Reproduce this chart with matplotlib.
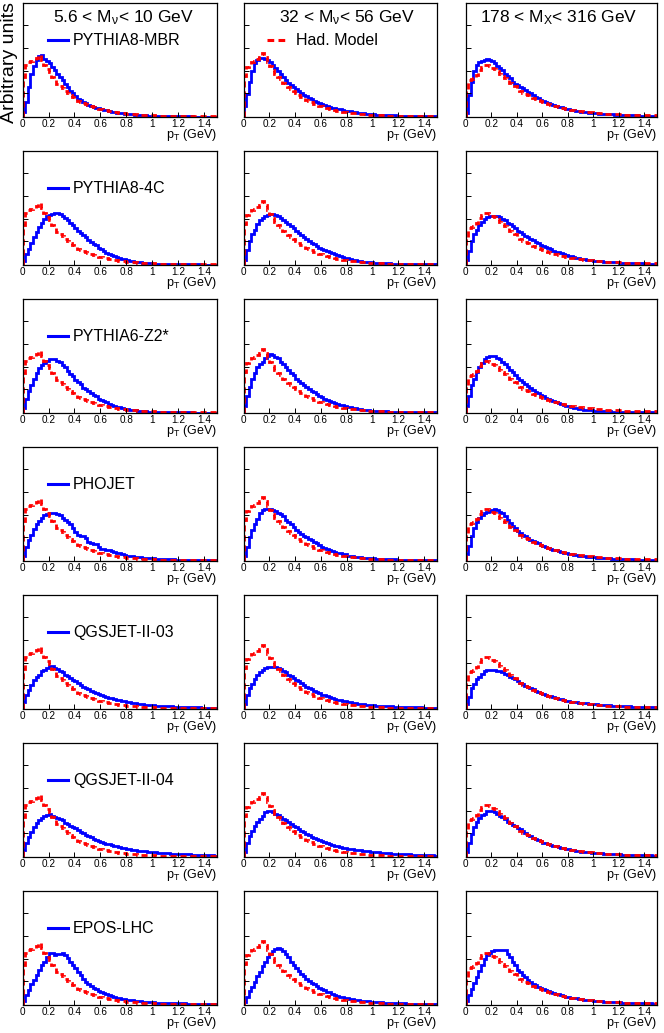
#!/usr/bin/env python3
"""
pT spectra of Had. Model vs generators in three diffractive mass bins.
Writes out.png.
"""

import numpy as np
import matplotlib
matplotlib.use("Agg")
import matplotlib.pyplot as plt
from matplotlib.lines import Line2D

plt.rcParams["font.family"] = ["Liberation Sans", "DejaVu Sans"]
plt.rcParams["mathtext.fontset"] = "custom"
plt.rcParams["mathtext.rm"] = "Liberation Sans"
plt.rcParams["mathtext.it"] = "Liberation Sans:italic"

# ---- data: bin contents in % of panel height, bins of 0.02 GeV from 0 to 1.5 ----
PT_MIN, PT_MAX, N_BINS = 0.0, 1.5, 75

mass_titles = ["5.6 < M$_{\\mathrm{ν}}$< 10 GeV",
               "32 < M$_{\\mathrm{ν}}$< 56 GeV",
               "178 < M$_{\\mathrm{X}}$< 316 GeV"]
models = ["PYTHIA8-MBR", "PYTHIA8-4C", "PYTHIA6-Z2*", "PHOJET",
          "QGSJET-II-03", "QGSJET-II-04", "EPOS-LHC"]
xtick_vals = [0, 0.2, 0.4, 0.6, 0.8, 1.0, 1.2, 1.4]
xtick_labels = ["0", "0.2", "0.4", "0.6", "0.8", "1", "1.2", "1.4"]

# Had. Model (same in every row of a column)
had_lo = [35, 46, 48, 49, 50, 52, 54, 50, 46, 42,
          39, 35, 32, 29, 27, 25, 23, 21, 19, 17,
          15.5, 14.2, 13.0, 12.0, 11.0, 10.0, 9.2, 8.5, 7.8, 7.2,
          6.6, 6.1, 5.6, 5.1, 4.7, 4.3, 3.9, 3.6, 3.3, 3.0,
          2.8, 2.5, 2.3, 2.1, 1.9, 1.7, 1.6, 1.4, 1.3, 1.2,
          1.1, 1.0, 0.9, 0.85, 0.8, 0.7, 0.65, 0.6, 0.55, 0.5,
          0.45, 0.42, 0.4, 0.37, 0.35, 0.32, 0.3, 0.28, 0.26, 0.24,
          0.22, 0.21, 0.2, 0.19, 0.18]
had_mid = [36, 44, 46, 48, 49, 51, 53, 56, 53, 48,
           45, 41, 38, 35, 33, 30, 28, 26, 24, 22.5,
           20.5, 19.0, 17.6, 16.3, 15.0, 13.8, 12.6, 11.6, 10.7, 9.8,
           9.0, 8.3, 7.6, 7.0, 6.4, 5.8, 5.4, 4.9, 4.5, 4.1,
           3.7, 3.4, 3.1, 2.9, 2.6, 2.4, 2.2, 2.0, 1.8, 1.65,
           1.5, 1.4, 1.3, 1.2, 1.1, 1.0, 0.95, 0.9, 0.85, 0.8,
           0.7, 0.65, 0.6, 0.55, 0.5, 0.48, 0.45, 0.42, 0.4, 0.38,
           0.35, 0.33, 0.31, 0.3, 0.28]
had_hi = [24, 32, 33, 34, 37, 41, 44, 46, 46, 45,
          43, 42, 40, 38, 36, 34, 32, 30, 28.5, 27,
          24, 22.5, 21.2, 20.0, 18.8, 17.6, 16.5, 15.5, 14.5, 13.6,
          12.8, 12.0, 11.2, 10.5, 9.8, 9.2, 8.6, 8.0, 7.5, 7.0,
          6.6, 6.2, 5.8, 5.4, 5.1, 4.8, 4.5, 4.2, 4.0, 3.8,
          3.6, 3.4, 3.2, 3.0, 2.8, 2.7, 2.5, 2.4, 2.3, 2.2,
          2.1, 2.0, 1.9, 1.8, 1.7, 1.6, 1.55, 1.5, 1.4, 1.35,
          1.3, 1.25, 1.2, 1.15, 1.1]

mbr_lo = [4, 13, 26, 38, 45, 50, 53.5, 54, 51, 49,
          47, 44, 41, 38, 35, 32, 29, 26, 23, 20.5,
          18, 16, 14.5, 13, 11.7, 10.5, 9.6, 8.8, 8.1, 7.3,
          6.5, 6.0, 5.5, 5.0, 4.5, 4.0, 3.7, 3.4, 3.1, 2.8,
          2.5, 2.3, 2.0, 1.8, 1.6, 1.4, 1.2, 1.1, 1.0, 0.9,
          0.7, 0.65, 0.6, 0.55, 0.5, 0.45, 0.4, 0.37, 0.34, 0.3,
          0.28, 0.26, 0.24, 0.22, 0.2, 0.18, 0.17, 0.16, 0.15, 0.14,
          0.13, 0.12, 0.11, 0.1, 0.1]
mbr_mid = [9, 20, 31, 40, 47, 50, 52, 52, 51, 50,
           48, 46, 43, 40, 38, 35, 32, 30, 28, 26,
           24, 22.5, 21, 19.5, 18, 16.5, 15.3, 14.1, 13, 12,
           11, 10.2, 9.5, 8.8, 8.1, 7.5, 6.9, 6.4, 5.9, 5.4,
           5.0, 4.6, 4.3, 3.9, 3.6, 3.3, 3.0, 2.8, 2.6, 2.4,
           2.0, 1.9, 1.7, 1.6, 1.5, 1.4, 1.3, 1.2, 1.1, 1.05,
           1.0, 0.95, 0.9, 0.85, 0.8, 0.75, 0.7, 0.65, 0.6, 0.55,
           0.5, 0.48, 0.45, 0.42, 0.4]
mbr_hi = [3, 19, 31, 40, 46, 48, 49, 50, 51, 50,
          49, 47, 45, 43, 41, 38, 36, 34, 31, 29,
          28, 26.5, 25, 23.5, 22, 20.5, 19, 17.8, 16.5, 15,
          13.5, 12.7, 11.9, 11.1, 10.3, 9.5, 8.9, 8.3, 7.7, 7.1,
          6.5, 6.1, 5.7, 5.3, 4.9, 4.5, 4.2, 3.9, 3.6, 3.4,
          3.2, 3.0, 2.8, 2.6, 2.4, 2.2, 2.1, 2.0, 1.9, 1.8,
          1.7, 1.6, 1.5, 1.4, 1.3, 1.2, 1.15, 1.1, 1.0, 0.95,
          0.9, 0.85, 0.8, 0.75, 0.7]

p8_4c_lo = [3, 9, 14, 19, 24, 29, 33, 37, 40, 43,
            44, 45, 46, 46, 45, 43, 41, 39, 37, 35,
            32, 30, 28, 26, 24, 22, 20, 18.5, 17, 15,
            13.5, 12, 10.5, 9.5, 8.5, 7.5, 6.7, 6.0, 5.4, 4.8,
            4.0, 3.6, 3.2, 2.8, 2.4, 2.0, 1.8, 1.6, 1.4, 1.2,
            1.0, 0.9, 0.8, 0.7, 0.65, 0.6, 0.55, 0.5, 0.45, 0.4,
            0.37, 0.34, 0.31, 0.28, 0.26, 0.24, 0.22, 0.2, 0.18, 0.17,
            0.16, 0.15, 0.14, 0.13, 0.12]
p8_4c_mid = [4.5, 13, 21, 27, 31, 36, 39, 41, 43, 44,
             45, 45, 44, 43, 41, 39, 38, 36, 34, 32,
             30, 28, 26, 24, 22.5, 21, 19.5, 18, 16.5, 15,
             14, 13, 12, 11, 10, 9, 8.2, 7.4, 6.7, 6.1,
             5.5, 5, 4.4, 3.9, 3.4, 3, 2.7, 2.4, 2.2, 2.0,
             1.8, 1.6, 1.5, 1.4, 1.3, 1.2, 1.1, 1.0, 0.95, 0.9,
             0.8, 0.75, 0.7, 0.65, 0.6, 0.55, 0.5, 0.47, 0.44, 0.41,
             0.38, 0.35, 0.33, 0.31, 0.3]
p8_4c_hi = [4.5, 12, 21, 27, 31, 35, 38, 40, 42, 43,
            43, 43, 43, 42, 40, 39, 37, 35.5, 34, 32,
            30, 28.5, 27, 25.5, 24.2, 23, 21.7, 20.4, 19, 17.7,
            16.5, 15.5, 14.5, 13.5, 12.5, 11.5, 10.8, 10.1, 9.4, 8.7,
            8, 7.4, 6.8, 6.2, 5.7, 5.2, 4.8, 4.4, 4.1, 3.8,
            3.5, 3.3, 3.1, 2.9, 2.7, 2.5, 2.3, 2.2, 2.1, 2.0,
            1.9, 1.8, 1.7, 1.6, 1.5, 1.4, 1.3, 1.2, 1.15, 1.1,
            1.0, 0.95, 0.9, 0.85, 0.8]

z2_lo = [4.5, 12, 19, 24.5, 30, 35, 39, 42, 44, 46,
         47, 47, 47, 46, 45, 42, 40, 37, 34, 32,
         29, 27, 25, 22, 20.5, 19, 17, 15.5, 14.5, 12.5,
         11, 10, 9, 8, 7, 6, 5.4, 4.8, 4.2, 3.6,
         3, 2.7, 2.4, 2.1, 1.8, 1.5, 1.35, 1.2, 1.05, 0.9,
         0.8, 0.72, 0.65, 0.58, 0.52, 0.46, 0.42, 0.38, 0.34, 0.3,
         0.28, 0.26, 0.24, 0.22, 0.2, 0.18, 0.17, 0.16, 0.15, 0.14,
         0.13, 0.12, 0.11, 0.1, 0.1]
z2_mid = [6, 15, 23, 30, 35, 40, 43, 45, 48, 50,
          51.5, 51, 49, 48, 45, 43, 40, 38, 35, 33,
          30, 28, 26, 24, 22.5, 21, 19.5, 18, 16.5, 15,
          13.5, 12.5, 11.5, 10.5, 9.5, 8.5, 7.8, 7.1, 6.4, 5.7,
          5, 4.6, 4.2, 3.8, 3.4, 3, 2.7, 2.4, 2.1, 1.9,
          1.7, 1.6, 1.45, 1.3, 1.2, 1.1, 1.0, 0.95, 0.9, 0.85,
          0.8, 0.75, 0.7, 0.65, 0.6, 0.55, 0.5, 0.47, 0.44, 0.41,
          0.38, 0.35, 0.33, 0.31, 0.3]
z2_hi = [6, 15, 24, 30, 36, 40, 44, 47, 49, 50,
         50, 50, 48, 47, 45, 43, 40, 38, 36, 33,
         31, 29, 27, 25, 23.2, 21.5, 20, 18.5, 17, 15.7,
         14.5, 13.4, 12.3, 11.2, 10.1, 9, 8.2, 7.4, 6.7, 6.1,
         5.5, 5, 4.4, 3.9, 3.4, 3, 2.7, 2.4, 2.2, 2.0,
         1.8, 1.65, 1.5, 1.4, 1.3, 1.2, 1.1, 1.0, 0.9, 0.85,
         0.8, 0.75, 0.7, 0.65, 0.6, 0.55, 0.5, 0.47, 0.44, 0.41,
         0.38, 0.35, 0.33, 0.31, 0.3]

phojet_lo = [4.5, 12, 18, 23, 28, 32, 35, 38, 40, 41,
             42, 42, 42, 41, 40, 38, 36, 34, 32, 29,
             25, 23, 22, 21.5, 20, 16.5, 15.5, 15, 14.5, 12.5,
             10.5, 10, 9.5, 9, 8.5, 7.5, 7, 6.5, 6, 5,
             4.5, 4.2, 3.9, 3.6, 3.3, 3, 2.8, 2.6, 2.4, 2.2,
             2, 1.9, 1.7, 1.6, 1.5, 1.4, 1.3, 1.2, 1.1, 1.05,
             1, 0.95, 0.9, 0.85, 0.8, 0.75, 0.7, 0.65, 0.6, 0.55,
             0.5, 0.48, 0.45, 0.42, 0.4]
phojet_mid = [4.5, 12, 21, 27, 32, 37, 42, 45, 46, 46,
              46, 45, 44, 42, 41, 39, 36, 34, 32, 30,
              27, 25.5, 23.5, 21.5, 20.5, 19.5, 18, 16.5, 15.5, 14,
              12.5, 11.5, 10.5, 9.5, 8.5, 7.5, 7, 6.5, 6, 5.5,
              4.5, 4.2, 3.9, 3.6, 3.3, 3, 2.8, 2.6, 2.4, 2.2,
              2, 1.9, 1.7, 1.6, 1.5, 1.4, 1.3, 1.2, 1.1, 1.05,
              1, 0.95, 0.9, 0.85, 0.8, 0.75, 0.7, 0.65, 0.6, 0.55,
              0.5, 0.48, 0.45, 0.42, 0.4]
phojet_hi = [6, 13, 22, 29, 34, 38, 40, 42, 43, 44,
             45, 45.5, 45, 43, 42, 39, 36, 33, 31, 29,
             26, 24.5, 23, 21.5, 20, 18.5, 17.5, 16.5, 15.5, 14,
             13, 12.2, 11.4, 10.6, 9.8, 9, 8.4, 7.8, 7.2, 6.6,
             6, 5.6, 5.2, 4.8, 4.4, 4, 3.8, 3.6, 3.4, 3.2,
             3, 2.8, 2.6, 2.4, 2.2, 2.1, 2, 1.9, 1.8, 1.6,
             1.5, 1.4, 1.3, 1.2, 1.15, 1.1, 1.0, 0.95, 0.9, 0.85,
             0.8, 0.75, 0.7, 0.65, 0.6]

qgs03_lo = [6, 12, 16.5, 21, 25, 28, 30, 33, 34, 36,
            38, 38, 36, 35, 33, 32, 30, 29, 27, 25.5,
            24, 22.5, 21, 19.5, 18.2, 17, 15.8, 14.7, 13.6, 12.8,
            12, 11.2, 10.5, 9.8, 9.1, 8.5, 8.0, 7.5, 7.0, 6.5,
            6, 5.6, 5.2, 4.9, 4.5, 4.2, 3.9, 3.7, 3.4, 3.2,
            3, 2.8, 2.6, 2.5, 2.3, 2.2, 2.1, 2.0, 1.9, 1.8,
            1.7, 1.6, 1.5, 1.45, 1.4, 1.3, 1.25, 1.2, 1.1, 1.05,
            1.0, 0.95, 0.9, 0.85, 0.8]
qgs03_mid = [4.5, 12, 18, 22, 26, 30, 32, 34, 36, 37,
             37, 37, 37, 36, 35, 33, 32, 30, 29, 27,
             25.5, 24, 22.5, 21, 19.5, 18, 17, 16, 15, 13.8,
             12.5, 11.7, 10.9, 10.1, 9.3, 8.5, 8, 7.5, 7, 6.5,
             6, 5.6, 5.2, 4.9, 4.5, 4.2, 3.9, 3.7, 3.4, 3.2,
             3, 2.8, 2.6, 2.5, 2.3, 2.2, 2.1, 2.0, 1.9, 1.8,
             1.7, 1.6, 1.5, 1.45, 1.4, 1.3, 1.25, 1.2, 1.1, 1.05,
             1.0, 0.95, 0.9, 0.85, 0.8]
qgs03_hi = [4.5, 10.5, 18, 22, 26, 28, 31, 33, 34, 34,
            34, 34, 33, 33, 32, 31, 30, 28, 27, 26,
            24.5, 23, 21.7, 20.4, 19.2, 18, 17, 16, 15, 14,
            13, 12.3, 11.6, 10.9, 10.2, 9.5, 8.9, 8.3, 7.7, 7.1,
            6.5, 6.2, 5.9, 5.6, 5.3, 5.0, 4.8, 4.6, 4.4, 4.2,
            4.0, 3.8, 3.6, 3.4, 3.2, 3.0, 2.9, 2.8, 2.6, 2.5,
            2.4, 2.3, 2.2, 2.1, 2.0, 1.9, 1.8, 1.7, 1.65, 1.6,
            1.5, 1.45, 1.4, 1.3, 1.2]

qgs04_lo = [5.5, 12, 17, 22, 26, 30, 32, 34, 36, 37,
            38, 36, 35, 34, 33, 32, 30, 29, 27, 26,
            25, 23.5, 22, 20.5, 19.2, 18, 17, 16, 15, 14,
            13, 12.2, 11.5, 10.8, 10.1, 9.5, 9, 8.4, 7.9, 7.4,
            7, 6.6, 6.2, 5.8, 5.4, 5, 4.8, 4.6, 4.4, 4.2,
            4, 3.8, 3.6, 3.4, 3.2, 3.0, 2.9, 2.8, 2.6, 2.5,
            2.4, 2.3, 2.2, 2.1, 2.0, 1.9, 1.8, 1.7, 1.6, 1.5,
            1.4, 1.3, 1.2, 1.1, 1.0]
qgs04_mid = [4.5, 12, 18.5, 23, 27.5, 31, 33, 36, 39, 40,
             40, 39, 38, 37, 35, 33, 32, 31, 29, 27.5,
             26, 24.5, 23, 21.5, 20.2, 19, 17.8, 16.6, 15.5, 14.5,
             13.5, 12.7, 11.9, 11.1, 10.3, 9.5, 9, 8.5, 8, 7.5,
             7, 6.7, 6.4, 6.1, 5.8, 5.5, 5.2, 4.9, 4.6, 4.4,
             4.2, 4.0, 3.8, 3.6, 3.4, 3.2, 3.0, 2.8, 2.6, 2.5,
             2.4, 2.3, 2.2, 2.1, 2.0, 1.9, 1.8, 1.7, 1.6, 1.5,
             1.4, 1.3, 1.2, 1.1, 1.0]
qgs04_hi = [4.5, 12, 20, 26, 31, 34, 37, 38, 40, 40,
            40, 39, 38, 36, 35, 33, 31, 30, 28, 27,
            25.5, 24, 22.5, 21, 19.5, 18, 16.9, 15.8, 14.7, 13.6,
            12.5, 11.8, 11.1, 10.4, 9.7, 9, 8.5, 8, 7.5, 7,
            6.5, 6.1, 5.7, 5.3, 4.9, 4.5, 4.3, 4.1, 3.9, 3.7,
            3.6, 3.4, 3.2, 3.0, 2.8, 2.6, 2.5, 2.4, 2.2, 2.1,
            2, 1.9, 1.8, 1.75, 1.7, 1.6, 1.5, 1.45, 1.4, 1.3,
            1.25, 1.2, 1.1, 1.05, 1.0]

epos_lo = [3, 8.5, 13, 18, 22, 26, 31, 35, 38, 42,
           46, 46, 44, 45, 45, 46, 44, 41, 38, 35,
           32, 29, 26, 23, 20, 18, 16.5, 15, 13.8, 12.3,
           11, 10, 9.2, 8.5, 7.5, 6.5, 6, 5.6, 5.2, 4.8,
           4.5, 4.2, 3.9, 3.6, 3.3, 3, 2.8, 2.6, 2.4, 2.2,
           2, 1.9, 1.8, 1.7, 1.6, 1.5, 1.45, 1.4, 1.3, 1.25,
           1.2, 1.15, 1.1, 1.0, 0.95, 0.9, 0.85, 0.8, 0.75, 0.7,
           0.65, 0.6, 0.58, 0.55, 0.5]
epos_mid = [2.5, 7, 12, 16, 20, 25, 29, 34, 38, 42,
            45, 47, 49, 50, 49, 47, 45, 42, 38, 35,
            32, 30, 27, 25, 23, 21, 19.5, 18, 16.5, 15,
            14, 12.8, 11.6, 10.8, 9.6, 8.5, 7.8, 7.1, 6.4, 6,
            5.5, 5, 4.6, 4.2, 3.8, 3.5, 3.3, 3.1, 2.9, 2.7,
            2.5, 2.3, 2.2, 2.0, 1.9, 1.8, 1.6, 1.5, 1.4, 1.3,
            1.2, 1.15, 1.1, 1.0, 0.95, 0.9, 0.85, 0.8, 0.75, 0.7,
            0.65, 0.6, 0.58, 0.55, 0.5]
epos_hi = [3, 8.5, 13.5, 19, 24, 30, 35, 40, 44, 46,
           47, 48, 48, 48, 48, 48, 45, 42, 38, 35,
           31, 28.5, 26.5, 24, 22, 20, 18.5, 17, 15.5, 14.8,
           14, 13, 12, 11.5, 10.5, 9.5, 9, 8.3, 7.7, 7,
           6.5, 6.1, 5.8, 5.5, 5.1, 4.8, 4.5, 4.2, 4.0, 3.8,
           3.6, 3.4, 3.2, 3.0, 2.8, 2.6, 2.5, 2.4, 2.2, 2.1,
           2, 1.9, 1.8, 1.75, 1.7, 1.6, 1.5, 1.45, 1.4, 1.3,
           1.25, 1.2, 1.1, 1.05, 1.0]

had_model = [had_lo, had_mid, had_hi]
generators = [
    [mbr_lo, mbr_mid, mbr_hi],
    [p8_4c_lo, p8_4c_mid, p8_4c_hi],
    [z2_lo, z2_mid, z2_hi],
    [phojet_lo, phojet_mid, phojet_hi],
    [qgs03_lo, qgs03_mid, qgs03_hi],
    [qgs04_lo, qgs04_mid, qgs04_hi],
    [epos_lo, epos_mid, epos_hi],
]

edges = np.linspace(PT_MIN, PT_MAX, N_BINS + 1)

# ---- layout (pixels of a 664x1033 canvas) ----
W, H = 664, 1033
col_x = [22.7, 243.5, 465.7]
col_w = [194.0, 193.5, 191.3]
row_top0, row_pitch, row_h = 3.3, 148.0, 113.4

BLUE = "#0000ff"
RED = "#ff0000"
RED_DASH = (0, (2.2, 1.4))

fig = plt.figure(figsize=(W / 100, H / 100), dpi=100)

for r, model in enumerate(models):
    for c in range(3):
        top = row_top0 + r * row_pitch
        ax = fig.add_axes([col_x[c] / W, 1 - (top + row_h) / H,
                           col_w[c] / W, row_h / H])
        ax.stairs(generators[r][c], edges, color=BLUE, lw=2.0, baseline=0)
        ax.stairs(had_model[c], edges, color=RED, lw=2.0, baseline=0,
                  linestyle=RED_DASH)
        ax.set_xlim(PT_MIN, PT_MAX)
        ax.set_ylim(0, 100)
        ax.set_xticks(xtick_vals)
        ax.set_xticklabels(xtick_labels, fontsize=7.2)
        ax.set_yticks([20.5, 40.5, 60.5, 80.5])
        ax.set_yticklabels([])
        ax.tick_params(direction="in", length=3.5, width=0.7, pad=1.5)
        for s in ax.spines.values():
            s.set_linewidth(0.9)
        ax.text(1.0, -0.19, "p$_{\\mathrm{T}}$ (GeV)", transform=ax.transAxes,
                ha="right", va="baseline", fontsize=9)

        if r == 0:
            ax.text([0.885, 0.885, 0.90][c], 0.835, mass_titles[c],
                    transform=ax.transAxes, ha="right", va="baseline",
                    fontsize=12.5)
        if c == 0:
            ax.add_line(Line2D([0.13, 0.235], [0.676, 0.676], color=BLUE,
                               lw=2.2, transform=ax.transAxes))
            ax.text(0.26, 0.676, model, transform=ax.transAxes,
                    ha="left", va="center", fontsize=11.5)
        if r == 0 and c == 1:
            ax.add_line(Line2D([0.12, 0.225], [0.676, 0.676], color=RED,
                               lw=2.2, linestyle=RED_DASH,
                               transform=ax.transAxes))
            ax.text(0.27, 0.676, "Had. Model", transform=ax.transAxes,
                    ha="left", va="center", fontsize=11.5)

fig.text(10 / W, 1 - 2 / H, "Arbitrary units", rotation=90,
         ha="center", va="top", fontsize=14)

fig.savefig("out.png", dpi=100)
print("[+] plot written -> out.png")
